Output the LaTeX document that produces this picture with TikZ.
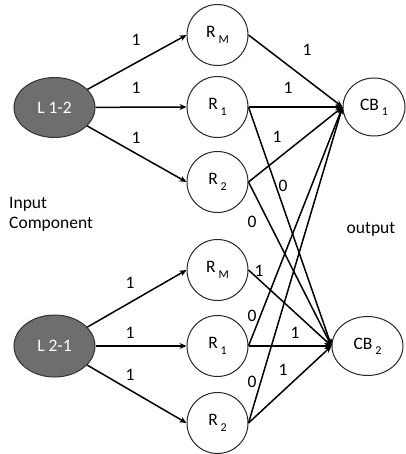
\documentclass[tikz,border=0pt]{standalone}
\usepackage{fontspec}
\setmainfont{Carlito}
\usetikzlibrary{arrows.meta,shapes.geometric}
% lowered, smaller index after a node letter
\newcommand{\lowidx}[1]{\,\raisebox{-0.3em}{\fontsize{12}{13}\selectfont #1}}
\begin{document}
\begin{tikzpicture}[x=1pt,y=-1pt,
  font=\fontsize{17.5}{20}\selectfont,
  rnode/.style={circle,draw=black!85,line width=1pt,fill=white,minimum size=61pt,inner sep=0pt},
  cbnode/.style={ellipse,draw=black!85,line width=1pt,fill=white,inner sep=0pt},
  lnode/.style={ellipse,draw=black!80,line width=1pt,fill=black!57,text=white,
                minimum width=81pt,minimum height=60pt,inner sep=0pt},
  link/.style={line width=1.5pt,-{Stealth[length=7pt,width=6pt]}},
  wlabel/.style={inner sep=0pt}]
\useasboundingbox (0,0) rectangle (405,454);

% input components
\node[lnode] (l12) at (54.5,107.5) {L 1-2};
\node[lnode,minimum height=62pt] (l21) at (54.5,346) {L 2-1};

% relay nodes, upper group
\node[rnode] (rm1) at (217.5,35) {R\lowidx{M}};
\node[rnode] (ra1) at (217.5,107) {R\lowidx{1}};
\node[rnode] (rb1) at (217.5,182) {R\lowidx{2}};
% relay nodes, lower group
\node[rnode] (rm2) at (217.5,270) {R\lowidx{M}};
\node[rnode] (ra2) at (217.5,346) {R\lowidx{1}};
\node[rnode] (rb2) at (217.5,423) {R\lowidx{2}};

% outputs
\node[cbnode,minimum width=62pt,minimum height=58pt] (cb1) at (374,107) {CB\lowidx{1}};
\node[cbnode,minimum width=71pt,minimum height=59pt] (cb2) at (367.5,346) {CB\lowidx{2}};

% side captions
\node[anchor=west,align=left,inner sep=0pt] (incap) at (9,214) {Input\\Component};
\node[inner sep=0pt] (outcap) at (371,229) {output};

% inputs to relays
\foreach \r in {rm1,ra1,rb1} \draw[link] (l12) -- (\r.west);
\foreach \r in {rm2,ra2,rb2} \draw[link] (l21) -- (\r.west);

% relays to outputs
\draw[link] (rm1.east) -- (cb1.west);
\draw[link] (ra1.east) -- (cb1.west);
\draw[link] (rb1.east) -- (cb1.west);
\draw[link] (ra1.east) -- (cb2.west);
\draw[link] (rb1.east) -- (cb2.west);
\draw[link] (rm2.east) -- (cb2.west);
\draw[link] (ra2.east) -- (cb2.west);
\draw[link] (rb2.east) -- (cb2.west);
\draw[link] (ra2.east) -- (cb1.west);
\draw[link] (rb2.east) -- (cb1.west);

% weights, upper group
\node[wlabel] (w1) at (136,40) {1};
\node[wlabel] (w2) at (136,88) {1};
\node[wlabel] (w3) at (136,138) {1};
\node[wlabel] (w4) at (307,50) {1};
\node[wlabel] (w5) at (288,88) {1};
\node[wlabel] (w6) at (277,137) {1};
\node[wlabel] (w7) at (283,186) {0};
\node[wlabel] (w8) at (252,222) {0};
% weights, lower group
\node[wlabel] (w9) at (130,283) {1};
\node[wlabel] (w10) at (130,333) {1};
\node[wlabel] (w11) at (130,375) {1};
\node[wlabel] (w12) at (259,271) {1};
\node[wlabel] (w13) at (252,316) {0};
\node[wlabel] (w14) at (295,333) {1};
\node[wlabel] (w15) at (252,382) {0};
\node[wlabel] (w16) at (283,370) {1};
\end{tikzpicture}
\end{document}
